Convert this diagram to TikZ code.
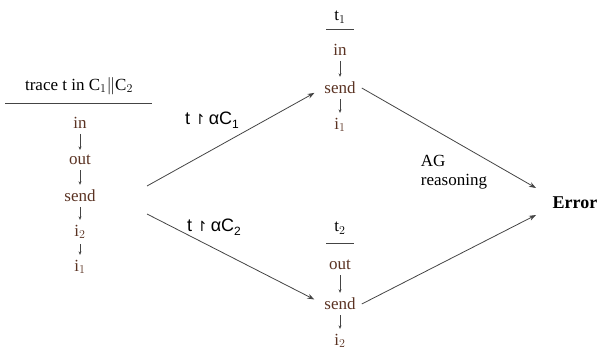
\documentclass[tikz,border=0pt]{standalone}
\usepackage{fontspec}
\setmainfont{Liberation Serif}
\newfontfamily\labfont{Liberation Sans}
\newfontfamily\symfont{DejaVu Sans}
\usetikzlibrary{arrows.meta}
\definecolor{ev}{HTML}{5A3222}
\definecolor{ln}{HTML}{444444}
\newcommand{\labsub}[1]{\raisebox{-4pt}{\fontsize{12}{12}\selectfont #1}}
\begin{document}
\begin{tikzpicture}[x=1pt,y=-1pt,
  evt/.style={text=ev,font=\fontsize{17}{17}\selectfont,inner sep=1pt},
  ttl/.style={font=\fontsize{17}{17}\selectfont,inner sep=1pt},
  small/.style={draw=ln,line width=0.6pt,-{Stealth[length=3.5pt,width=3pt]},shorten <=4pt,shorten >=4pt},
  big/.style={draw=ln,line width=0.8pt,-{Stealth[length=7pt,width=5pt]}},
  bar/.style={draw=ln,line width=0.9pt},
  lab/.style={font=\labfont\fontsize{18}{18}\selectfont,inner sep=1pt}]
\useasboundingbox (0,0) rectangle (604,358);
% left column
\node[ttl] (tt) at (79,86) {trace t in C$_1\|$C$_2$};
\coordinate (tl1) at (5,103); \coordinate (tl2) at (152,103);
\draw[bar] (tl1) -- (tl2);
\node[evt] (a1) at (80,123) {in};
\node[evt] (a2) at (80,160) {out};
\node[evt] (a3) at (80,196) {send};
\node[evt] (a4) at (80,232) {i$_2$};
\node[evt] (a5) at (80,267) {i$_1$};
\draw[small] (a1) -- (a2);
\draw[small] (a2) -- (a3);
\draw[small] (a3) -- (a4);
\draw[small] (a4) -- (a5);
% top column
\node[ttl] (t1) at (340,17) {t$_1$};
\coordinate (b1l) at (326,29); \coordinate (b1r) at (354,29);
\draw[bar] (b1l) -- (b1r);
\node[evt] (b1) at (340,50) {in};
\node[evt] (b2) at (340,88) {send};
\node[evt] (b3) at (340,125) {i$_1$};
\draw[small] (b1) -- (b2);
\draw[small] (b2) -- (b3);
% bottom column
\node[ttl] (t2) at (340,228) {t$_2$};
\coordinate (c0l) at (326,243); \coordinate (c0r) at (354,243);
\draw[bar] (c0l) -- (c0r);
\node[evt] (c1) at (340,265) {out};
\node[evt] (c2) at (340,304) {send};
\node[evt] (c3) at (340,341) {i$_2$};
\draw[small] (c1) -- (c2);
\draw[small] (c2) -- (c3);
% big arrows
\coordinate (s1) at (147,186);
\coordinate (s2) at (147,214);
\draw[big,shorten >=10pt] (s1) -- (b2.west);
\draw[big,shorten >=10pt] (s2) -- (c2.west);
\node[font=\bfseries\fontsize{18}{18}\selectfont,inner sep=1pt] (err) at (575,203) {Error};
\coordinate (e1) at (536,188);
\coordinate (e2) at (536,215);
\coordinate (b2e) at ([xshift=5pt]b2.east);
\coordinate (c2e) at ([xshift=5pt]c2.east);
\draw[big] (b2e) -- (e1);
\draw[big] (c2e) -- (e2);
% labels
\node[lab] (l1) at (212,120) {t\hspace{4pt}{\symfont\fontsize{14}{14}\selectfont ↾}\hspace{3pt}αC\labsub{1}};
\node[lab] (l2) at (214,227) {t\hspace{4pt}{\symfont\fontsize{14}{14}\selectfont ↾}\hspace{3pt}αC\labsub{2}};
\node[ttl,align=left] (ag) at (454,172) {AG\\[2pt]reasoning};
\end{tikzpicture}
\end{document}
